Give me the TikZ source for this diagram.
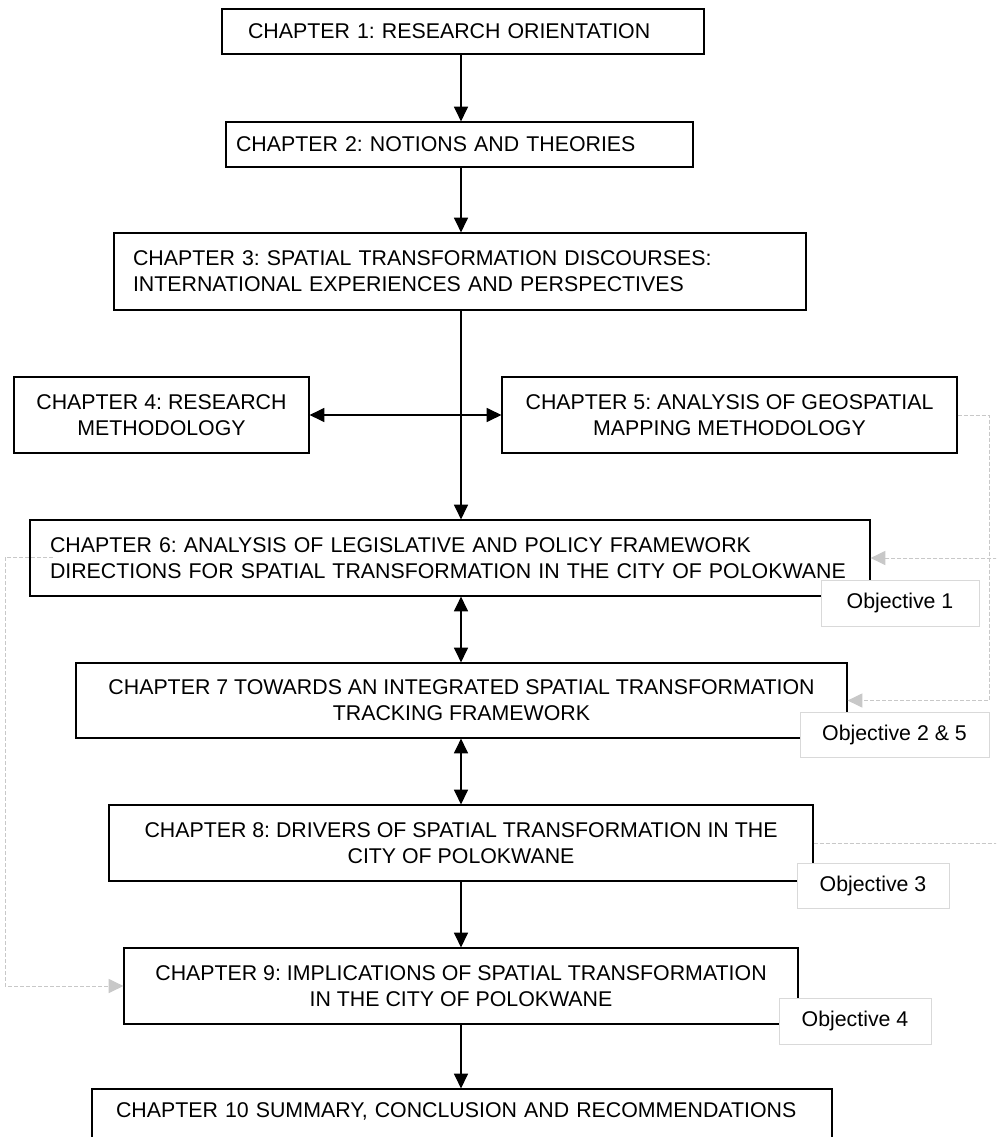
\documentclass[tikz,border=0pt]{standalone}
\usepackage{fontspec}
\setmainfont{Liberation Sans}
\usetikzlibrary{arrows.meta}
\definecolor{linkgray}{RGB}{200,200,200}
\definecolor{objgray}{RGB}{217,217,217}
\frenchspacing
\begin{document}
\begin{tikzpicture}[x=0.75pt,y=-0.75pt,
  chap/.style={draw=black, line width=0.9pt, fill=white, inner sep=0pt,
    font=\fontsize{16}{19.5}\selectfont, align=center},
  obj/.style={draw=objgray, line width=0.75pt, fill=white, inner sep=0pt,
    font=\fontsize{16}{19.5}\selectfont},
  flow/.style={line width=0.9pt, -{Triangle[length=11pt,width=10.5pt]}},
  both/.style={line width=0.9pt,
    {Triangle[length=11pt,width=10.5pt]}-{Triangle[length=11pt,width=10.5pt]}},
  link/.style={draw=linkgray, line width=0.75pt, dash pattern=on 3pt off 1.5pt,
    -{Triangle[length=11pt,width=10.5pt,fill=linkgray]}},
]
\useasboundingbox (0,0) rectangle (996,1137);
\clip (0,0) rectangle (996,1137);
\fill[white] (0,0) rectangle (996,1137);

% chapter boxes
\node[chap, minimum width=361.5pt, minimum height=33.75pt, text width=322.5pt, align=left]
  (ch1) at (463,31.5) {CHAPTER 1: RESEARCH ORIENTATION};
\node[chap, minimum width=350.25pt, minimum height=33.75pt, text width=335.25pt, align=left]
  (ch2) at (459.5,144.5) {CHAPTER 2: NOTIONS AND THEORIES};
\node[chap, minimum width=519pt, minimum height=57.75pt, text width=490.5pt, align=left]
  (ch3) at (460,271.5) {CHAPTER 3: SPATIAL TRANSFORMATION DISCOURSES:\\INTERNATIONAL EXPERIENCES AND PERSPECTIVES};
\node[chap, minimum width=221.25pt, minimum height=57pt]
  (ch4) at (161.5,415) {CHAPTER 4: RESEARCH\\METHODOLOGY};
\node[chap, minimum width=341.25pt, minimum height=57pt]
  (ch5) at (729.5,415) {CHAPTER 5: ANALYSIS OF GEOSPATIAL\\MAPPING METHODOLOGY};
\node[chap, minimum width=630pt, minimum height=57pt, text width=600pt, align=left]
  (ch6) at (450,558) {CHAPTER 6: ANALYSIS OF LEGISLATIVE AND POLICY FRAMEWORK\\DIRECTIONS FOR SPATIAL TRANSFORMATION IN THE CITY OF POLOKWANE};
\node[chap, minimum width=578.25pt, minimum height=56.25pt]
  (ch7) at (461.5,700.5) {CHAPTER 7 TOWARDS AN INTEGRATED SPATIAL TRANSFORMATION\\TRACKING FRAMEWORK};
\node[chap, minimum width=528pt, minimum height=57pt]
  (ch8) at (461,843) {CHAPTER 8: DRIVERS OF SPATIAL TRANSFORMATION IN THE\\CITY OF POLOKWANE};
\node[chap, minimum width=505.5pt, minimum height=57pt]
  (ch9) at (461,986) {CHAPTER 9: IMPLICATIONS OF SPATIAL TRANSFORMATION\\IN THE CITY OF POLOKWANE};
\node[chap, minimum width=555pt, minimum height=57pt, text width=519pt, align=left]
  (ch10) at (462,1127) {CHAPTER 10 SUMMARY, CONCLUSION AND RECOMMENDATIONS\\\strut};

% main flow along the central spine
\coordinate (spine) at (461,0);
\draw[flow] (ch1.south -| spine) -- (ch2.north -| spine);
\draw[flow] (ch2.south -| spine) -- (ch3.north -| spine);
\draw[flow] (ch3.south -| spine) -- (ch6.north -| spine);
\draw[both] (ch4.east) -- (ch5.west);
\draw[both] (ch6.south -| spine) -- (ch7.north -| spine);
\draw[both] (ch7.south -| spine) -- (ch8.north -| spine);
\draw[flow] (ch8.south -| spine) -- (ch9.north -| spine);
\draw[flow] (ch9.south -| spine) -- (ch10.north -| spine);

% grey feedback links
\coordinate (c6in) at (53,557);
\coordinate (lft) at (5,0);
\coordinate (rgt) at (989,0);
\coordinate (off) at (1012,0);
\draw[link] (c6in) -- (c6in -| lft) |- (ch9.west);
\draw[link] (ch5.east) -| (rgt |- ch7.east) -- (ch7.east);
\draw[link] (ch8.east) -| (off |- ch6.east) -- (ch6.east);

% objective labels
\node[obj, minimum width=118.5pt, minimum height=34.5pt] (o1) at (900,603) {Objective 1};
\node[obj, minimum width=141.75pt, minimum height=33.75pt] (o25) at (894.5,734.5) {Objective 2 \& 5};
\node[obj, minimum width=114pt, minimum height=33.75pt] (o3) at (873,885.5) {Objective 3};
\node[obj, minimum width=114pt, minimum height=34.5pt] (o4) at (855,1021) {Objective 4};
\end{tikzpicture}
\end{document}
